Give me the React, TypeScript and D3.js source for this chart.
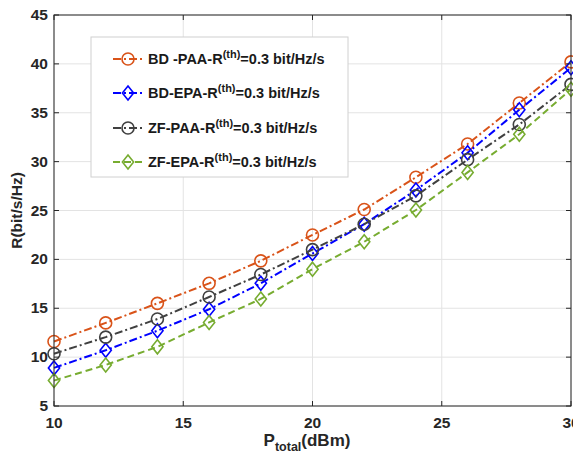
import React from "react";
import * as d3 from "d3";

const xValues = [10, 12, 14, 16, 18, 20, 22, 24, 26, 28, 30];
const bdPaa = [11.6, 13.5, 15.5, 17.55, 19.85, 22.5, 25.1, 28.4, 31.8, 36.0, 40.2];
const bdEpa = [8.9, 10.7, 12.7, 14.9, 17.55, 20.6, 23.6, 27.1, 30.9, 35.3, 39.6];
const zfPaa = [10.35, 12.05, 13.9, 16.15, 18.45, 21.0, 23.6, 26.5, 30.2, 33.8, 37.9];
const zfEpa = [7.6, 9.2, 11.05, 13.55, 15.95, 19.0, 21.8, 25.05, 28.9, 32.8, 37.4];
const xTicks = [10, 15, 20, 25, 30];
const yTicks = [5, 10, 15, 20, 25, 30, 35, 40, 45];
const legendLabels = ["BD -PAA-R", "BD-EPA-R", "ZF-PAA-R", "ZF-EPA-R"];

const series = [
  { name: legendLabels[0], values: bdPaa, color: "#D95319", marker: "circle", dash: "8,3,2,3" },
  { name: legendLabels[1], values: bdEpa, color: "#0000FF", marker: "diamond", dash: "8,3,2,3" },
  { name: legendLabels[2], values: zfPaa, color: "#404040", marker: "circle", dash: "8,3,2,3" },
  { name: legendLabels[3], values: zfEpa, color: "#77AC30", marker: "diamond", dash: "7,4" },
];

const W = 573, H = 455;
const L = 54, R = 571, T = 15, B = 406;
const font = "'Liberation Sans', Arial, Helvetica, sans-serif";

function Marker({ type, x, y, color }: { type: string; x: number; y: number; color: string }) {
  if (type === "circle") {
    return <circle cx={x} cy={y} r={6} fill="none" stroke={color} strokeWidth={1.6} />;
  }
  const s = 7;
  return (
    <path
      d={`M${x},${y - s}L${x + s * 0.8},${y}L${x},${y + s}L${x - s * 0.8},${y}Z`}
      fill="none"
      stroke={color}
      strokeWidth={1.6}
    />
  );
}

export default function App() {
  const x = d3.scaleLinear().domain([10, 30]).range([L, R]);
  const y = d3.scaleLinear().domain([5, 45]).range([B, T]);
  const line = d3.line<number>().x((_, i) => x(xValues[i])).y((d) => y(d));

  const legX = 91, legY = 37, legW = 257, legH = 140;
  const rowY = [59, 93, 128, 162];

  return (
    <svg width={W} height={H} style={{ position: "absolute", left: 0, top: 0, background: "#fff" }} fontFamily={font}>
      <rect x={0} y={0} width={W} height={H} fill="#fff" />
      {xTicks.map((t) => (
        <line key={"gx" + t} x1={x(t)} x2={x(t)} y1={T} y2={B} stroke="#e3e3e3" strokeWidth={1} />
      ))}
      {yTicks.map((t) => (
        <line key={"gy" + t} x1={L} x2={R} y1={y(t)} y2={y(t)} stroke="#e3e3e3" strokeWidth={1} />
      ))}
      {series.map((s) => (
        <g key={s.name}>
          <path d={line(s.values) || ""} fill="none" stroke={s.color} strokeWidth={2} strokeDasharray={s.dash} />
          {s.values.map((v, i) => (
            <Marker key={i} type={s.marker} x={x(xValues[i])} y={y(v)} color={s.color} />
          ))}
        </g>
      ))}
      <rect x={L} y={T} width={R - L} height={B - T} fill="none" stroke="#262626" strokeWidth={1} />
      {xTicks.map((t) => (
        <g key={"tx" + t}>
          <line x1={x(t)} x2={x(t)} y1={B} y2={B - 5} stroke="#262626" />
          <line x1={x(t)} x2={x(t)} y1={T} y2={T + 5} stroke="#262626" />
          <text x={x(t)} y={B + 22} textAnchor="middle" fontSize={15.5} fontWeight="bold" fill="#262626">
            {t}
          </text>
        </g>
      ))}
      {yTicks.map((t) => (
        <g key={"ty" + t}>
          <line x1={L} x2={L + 5} y1={y(t)} y2={y(t)} stroke="#262626" />
          <line x1={R} x2={R - 5} y1={y(t)} y2={y(t)} stroke="#262626" />
          <text x={L - 6} y={y(t) + 5} textAnchor="end" fontSize={15.5} fontWeight="bold" fill="#262626">
            {t}
          </text>
        </g>
      ))}
      <text
        transform={`translate(22,${(T + B) / 2}) rotate(-90)`}
        textAnchor="middle"
        fontSize={15.5}
        fontWeight="bold"
        fill="#262626"
      >
        R(bit/s/Hz)
      </text>
      <text x={307} y={446} textAnchor="middle" fontSize={17} fontWeight="bold" fill="#262626">
        P
        <tspan fontSize={12.5} dy={5}>total</tspan>
        <tspan fontSize={17} dy={-5}>(dBm)</tspan>
      </text>
      <rect x={legX} y={legY} width={legW} height={legH} fill="#fff" stroke="#d0d0d0" strokeWidth={1} />
      {series.map((s, i) => (
        <g key={"leg" + i}>
          <line x1={113} x2={143} y1={rowY[i]} y2={rowY[i]} stroke={s.color} strokeWidth={2} strokeDasharray={s.dash} />
          <Marker type={s.marker} x={128} y={rowY[i]} color={s.color} />
          <text x={148} y={rowY[i] + 5} fontSize={14.5} fontWeight="bold" fill="#1a1a1a">
            {s.name}
            <tspan fontSize={11} dy={-6}>(th)</tspan>
            <tspan fontSize={14.5} dy={6}>=0.3 bit/Hz/s</tspan>
          </text>
        </g>
      ))}
    </svg>
  );
}
